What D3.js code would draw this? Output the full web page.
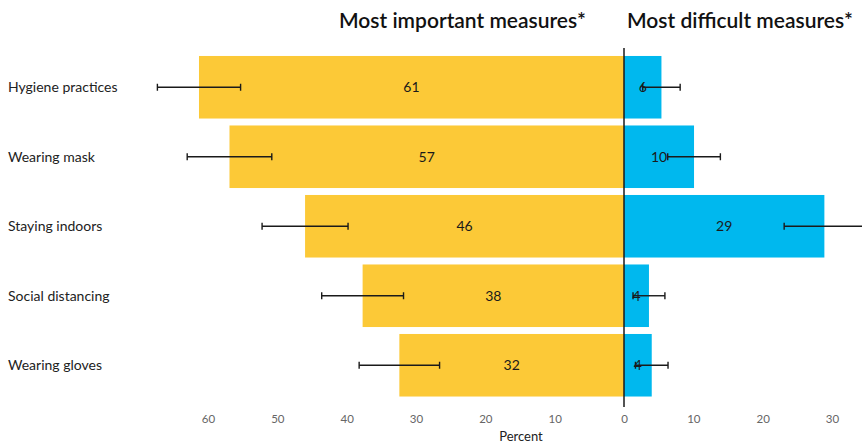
<!DOCTYPE html>
<html><head><meta charset="utf-8">
<script src="https://cdn.jsdelivr.net/npm/d3@7"></script>
<style>body{margin:0;background:#fff}svg{display:block;font-family:Lato,"Open Sans",sans-serif}</style>
</head><body><svg id="c" width="862" height="443"></svg>
<script>
const categories = ["Hygiene practices","Wearing mask","Staying indoors","Social distancing","Wearing gloves"];
const important = [61.3, 56.9, 46.0, 37.7, 32.4];
const importantErr = [6.0, 6.1, 6.2, 5.9, 5.8];
const importantLabels = ["61","57","46","38","32"];
const difficult = [5.4, 10.1, 28.9, 3.6, 4.0];
const difficultErr = [2.7, 3.8, 5.8, 2.3, 2.35];
const difficultLabels = ["6","10","29","4","4"];
const tickValues = [-60,-50,-40,-30,-20,-10,0,10,20,30];
const titles = ["Most important measures*","Most difficult measures*"];
const axisTitle = "Percent";

const svg = d3.select("#c");
const x = d3.scaleLinear().domain([-60,30]).range([208,832]);
const y = d3.scaleBand().domain(categories).range([52.5,400]).paddingInner(0.1).paddingOuter(0.05);
const YEL="#FCC937", BLU="#00B8EE", INK="#1a1a1a";

const rows = categories.map((c,i)=>({c,imp:important[i],ie:importantErr[i],il:importantLabels[i],dif:difficult[i],de:difficultErr[i],dl:difficultLabels[i]}));

svg.selectAll("rect.imp").data(rows).join("rect").attr("class","imp")
  .attr("x",d=>x(-d.imp)).attr("width",d=>x(0)-x(-d.imp))
  .attr("y",d=>y(d.c)).attr("height",y.bandwidth()).attr("fill",YEL);
svg.selectAll("rect.dif").data(rows).join("rect").attr("class","dif")
  .attr("x",x(0)).attr("width",d=>x(d.dif)-x(0))
  .attr("y",d=>y(d.c)).attr("height",y.bandwidth()).attr("fill",BLU);

// value labels
svg.selectAll("text.il").data(rows).join("text").attr("class","il")
  .attr("x",d=>(x(-d.imp)+x(0))/2).attr("y",d=>y(d.c)+y.bandwidth()/2)
  .attr("dy","0.35em").attr("text-anchor","middle").attr("font-size",14).attr("fill",INK).text(d=>d.il);
svg.selectAll("text.dl").data(rows).join("text").attr("class","dl")
  .attr("x",d=>(x(d.dif)+x(0))/2).attr("y",d=>y(d.c)+y.bandwidth()/2)
  .attr("dy","0.35em").attr("text-anchor","middle").attr("font-size",14).attr("fill",INK).text(d=>d.dl);

// error bars
function errBars(cls, getC, getE){
  const g = svg.selectAll("g."+cls).data(rows).join("g").attr("class",cls)
    .attr("stroke",INK).attr("stroke-width",1.4);
  g.append("line").attr("x1",d=>x(getC(d)-getE(d))).attr("x2",d=>x(getC(d)+getE(d)))
    .attr("y1",d=>y(d.c)+y.bandwidth()/2).attr("y2",d=>y(d.c)+y.bandwidth()/2);
  [-1,1].forEach(s=>{
    g.append("line").attr("x1",d=>x(getC(d)+s*getE(d))).attr("x2",d=>x(getC(d)+s*getE(d)))
      .attr("y1",d=>y(d.c)+y.bandwidth()/2-3.5).attr("y2",d=>y(d.c)+y.bandwidth()/2+3.5);
  });
}
errBars("ei", d=>-d.imp, d=>d.ie);
errBars("ed", d=>d.dif, d=>d.de);

// center line
svg.append("line").attr("x1",x(0)).attr("x2",x(0)).attr("y1",48).attr("y2",407)
  .attr("stroke",INK).attr("stroke-width",1.5);

// category labels
svg.selectAll("text.cat").data(categories).join("text").attr("class","cat")
  .attr("x",8).attr("y",d=>y(d)+y.bandwidth()/2).attr("dy","0.35em")
  .attr("font-size",14).attr("fill","#222").text(d=>d);

// x axis
const ax = svg.append("g").attr("transform","translate(0,407)")
  .call(d3.axisBottom(x).tickValues(tickValues).tickFormat(d=>Math.abs(d)).tickSize(0).tickPadding(8));
ax.select(".domain").remove();
ax.selectAll("text").attr("font-size",11.5).attr("fill","#666").attr("font-family","Lato,sans-serif");
svg.append("text").attr("x",521).attr("y",441).attr("text-anchor","middle")
  .attr("font-size",13).attr("fill","#222").text(axisTitle);

// titles
svg.append("text").attr("x",586).attr("y",28).attr("text-anchor","end")
  .attr("font-size",21).attr("font-weight",600).attr("fill","#111").text(titles[0]);
svg.append("text").attr("x",627).attr("y",28).attr("text-anchor","start")
  .attr("font-size",21).attr("font-weight",600).attr("fill","#111").text(titles[1]);
</script></body></html>
